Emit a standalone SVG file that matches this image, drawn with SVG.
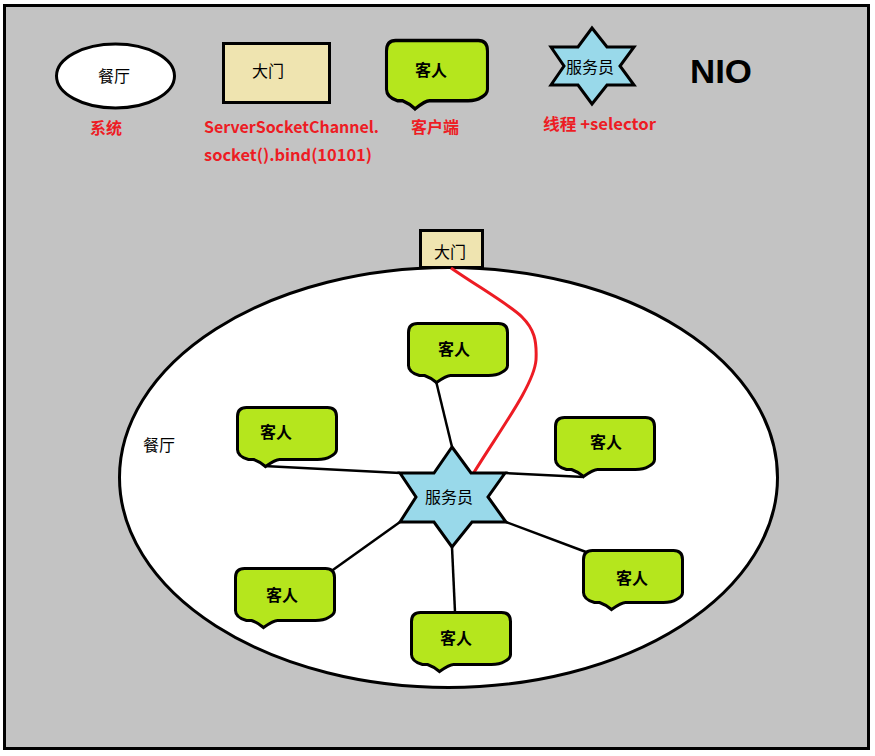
<svg xmlns="http://www.w3.org/2000/svg" width="875" height="756" viewBox="0 0 875 756">
<style>
.o{stroke:#000;stroke-width:3}
.t{font-family:"Noto Sans CJK SC","Liberation Sans",sans-serif;font-size:16px;fill:#000;text-anchor:middle}
.b{font-weight:700}
.r{font-family:"Noto Sans CJK SC","Liberation Sans",sans-serif;font-size:16px;font-weight:700;fill:#ed1c24}
.s{fill:#99d9ea}.d{fill:#efe4b0}.g{fill:#b5e61d}
.c{fill:none;stroke:#000;stroke-width:2.500}
</style>
<defs>
<path id="bub" class="g o" d="M9 0H90Q99 0 99 9V42Q99 46 93 49Q88 52 80 52H42Q38 52 28 59Q22 54 16 52H11Q0 49 0 42V9Q0 0 9 0Z"/>
<path id="star" class="s o" d="M52 0L71 26H105L88 50L106 75H72L52 100L34 75H0L16 50L0 26H34Z"/>
</defs>
<rect id="frame" x="4.500" y="5.500" width="864" height="743" fill="#c3c3c3" stroke="#000" stroke-width="3"/>
<g id="legend-hall"><ellipse class="o" cx="115.500" cy="76" rx="59" ry="32" fill="#fff"/><text class="t" x="114" y="82">餐厅</text><text class="r" x="106" y="134" text-anchor="middle">系统</text></g>
<g id="legend-door"><rect class="o d" x="223.500" y="43.500" width="106" height="59"/><text class="t" x="268" y="77">大门</text><text class="r" x="204" y="133" textLength="175" lengthAdjust="spacingAndGlyphs">ServerSocketChannel.</text><text class="r" x="204" y="161" textLength="168" lengthAdjust="spacingAndGlyphs">socket().bind(10101)</text></g>
<g id="legend-client"><use href="#bub" transform="translate(386.500 40.500) scale(1.020 1.160)"/><text class="t b" x="431" y="76">客人</text><text class="r" x="435" y="133" text-anchor="middle">客户端</text></g>
<g id="legend-waiter"><path class="s o" d="M592 28L607 47H634L620 66L634 85H607L592 104L578 85H551L564 66L551 47H578Z"/><text class="t" x="590" y="73">服务员</text><text class="r" x="543" y="130" textLength="113" lengthAdjust="spacingAndGlyphs">线程 +selector</text></g>
<g id="legend-title"><text x="721" y="83" font-family="Liberation Sans,sans-serif" font-size="34" font-weight="700" text-anchor="middle" textLength="62" lengthAdjust="spacingAndGlyphs">NIO</text></g>
<g id="hall"><ellipse class="o" cx="448.500" cy="477.500" rx="329" ry="210" fill="#fff"/><text class="t" x="159" y="451">餐厅</text></g>
<g id="door"><rect class="o d" x="420.500" y="230.500" width="62" height="37"/><text class="t" x="450" y="258">大门</text></g>
<g id="connectors">
<path class="c" d="M436 381L452 447"/>
<path class="c" d="M264 466L400 473"/>
<path class="c" d="M505 473L584 477"/>
<path class="c" d="M400 522L330 572"/>
<path class="c" d="M452 547L455 612"/>
<path class="c" d="M506 522L586 552"/>
<path d="M451 268C480 288 510 305 522 317C534 329 537 340 536 360C534 385 500 430 473 474" fill="none" stroke="#ed1c24" stroke-width="3"/>
</g>
<g id="client-top"><use href="#bub" x="408.500" y="323.500"/><text class="t b" x="454" y="355">客人</text></g>
<g id="client-left"><use href="#bub" x="237.500" y="407.500"/><text class="t b" x="276" y="438">客人</text></g>
<g id="client-right"><use href="#bub" x="555.500" y="417.500"/><text class="t b" x="606" y="448">客人</text></g>
<g id="client-lower-left"><use href="#bub" x="235.500" y="568.500"/><text class="t b" x="282" y="601">客人</text></g>
<g id="client-bottom"><use href="#bub" x="411.500" y="612.500"/><text class="t b" x="456" y="644">客人</text></g>
<g id="client-lower-right"><use href="#bub" x="583.500" y="550.500"/><text class="t b" x="632" y="584">客人</text></g>
<g id="waiter"><use href="#star" x="400" y="447"/><text class="t" x="449" y="503">服务员</text></g>
</svg>
